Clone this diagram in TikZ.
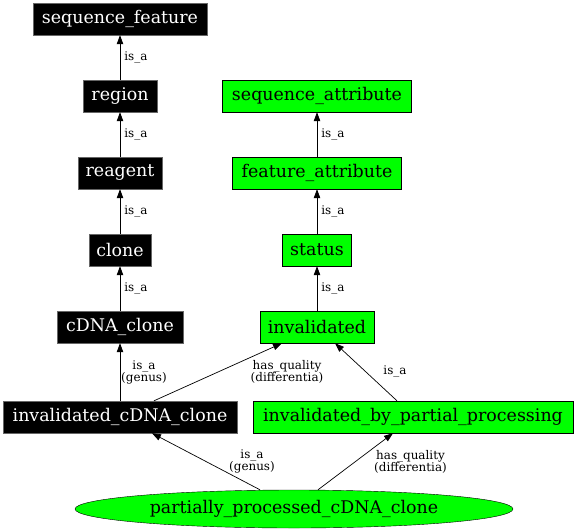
\documentclass[tikz,border=0pt]{standalone}
\usepackage{fontspec}
\setmainfont{DejaVu Serif}
\newfontfamily\termfont{DejaVu Serif}
\definecolor{termgreen}{HTML}{00FF00}
\usetikzlibrary{arrows.meta,shapes.geometric}

\begin{document}
\begin{tikzpicture}[x=1bp,y=-1bp,>={Triangle[length=9bp,width=6.5bp]},
  term/.style={draw=black!60,fill=black,text=white,minimum height=32bp,inner sep=0pt,
    font=\termfont\fontsize{17.5}{20}\selectfont},
  attr/.style={term,draw=black,fill=termgreen,text=black},
  rel/.style={->,line width=0.7bp},
  lbl/.style={font=\termfont\fontsize{12}{12}\selectfont,align=center,inner sep=0pt}]
  \useasboundingbox (0,0) rectangle (576,531);

  % left column
  \node[term,minimum width=174bp] (seqfeat) at (120,19) {sequence\_feature};
  \node[term,minimum width=74bp] (region) at (120,96) {region};
  \node[term,minimum width=84bp] (reagent) at (120,173) {reagent};
  \node[term,minimum width=62bp] (clone) at (120,250) {clone};
  \node[term,minimum width=126bp] (cdna) at (120,327) {cDNA\_clone};
  \node[term,minimum width=234bp] (invcdna) at (120,417) {invalidated\_cDNA\_clone};

  % right column
  \node[attr,minimum width=189bp] (seqattr) at (317,96) {sequence\_attribute};
  \node[attr,minimum width=169bp] (featattr) at (317,173) {feature\_attribute};
  \node[attr,minimum width=69bp] (status) at (317,250) {status};
  \node[attr,minimum width=114bp] (invalid) at (317,327) {invalidated};
  \node[attr,minimum width=320bp] (invpart) at (413,417) {invalidated\_by\_partial\_processing};

  \node[ellipse,draw=black,fill=termgreen,minimum width=438bp,minimum height=38bp,inner sep=0pt,
    font=\termfont\fontsize{17.5}{20}\selectfont] (ppcdna) at (294,509) {partially\_processed\_cDNA\_clone};

  % is_a chains
  \draw[rel] (region) -- node[lbl,anchor=west,xshift=4bp] {is\_a} (seqfeat);
  \draw[rel] (reagent) -- node[lbl,anchor=west,xshift=4bp] {is\_a} (region);
  \draw[rel] (clone) -- node[lbl,anchor=west,xshift=4bp] {is\_a} (reagent);
  \draw[rel] (cdna) -- node[lbl,anchor=west,xshift=4bp] {is\_a} (clone);
  \draw[rel] (featattr) -- node[lbl,anchor=west,xshift=4bp] {is\_a} (seqattr);
  \draw[rel] (status) -- node[lbl,anchor=west,xshift=4bp] {is\_a} (featattr);
  \draw[rel] (invalid) -- node[lbl,anchor=west,xshift=4bp] {is\_a} (status);

  % genus / differentia
  \draw[rel] (invcdna) -- node[lbl,xshift=24bp] {is\_a\\(genus)} (cdna);
  \draw[rel] ([xshift=34bp]invcdna.north) -- node[lbl,xshift=69bp] {has\_quality\\(differentia)} ([xshift=-35bp]invalid.south);
  \draw[rel] ([xshift=-16bp]invpart.north) -- node[lbl,xshift=29bp] {is\_a} ([xshift=18bp]invalid.south);
  \draw[rel] ([xshift=-34bp]ppcdna.north) -- node[lbl,xshift=46bp] {is\_a\\(genus)} ([xshift=32bp]invcdna.south);
  \draw[rel] ([xshift=24bp]ppcdna.north) -- node[lbl,xshift=55bp] {has\_quality\\(differentia)} ([xshift=-20bp]invpart.south);
\end{tikzpicture}
\end{document}
